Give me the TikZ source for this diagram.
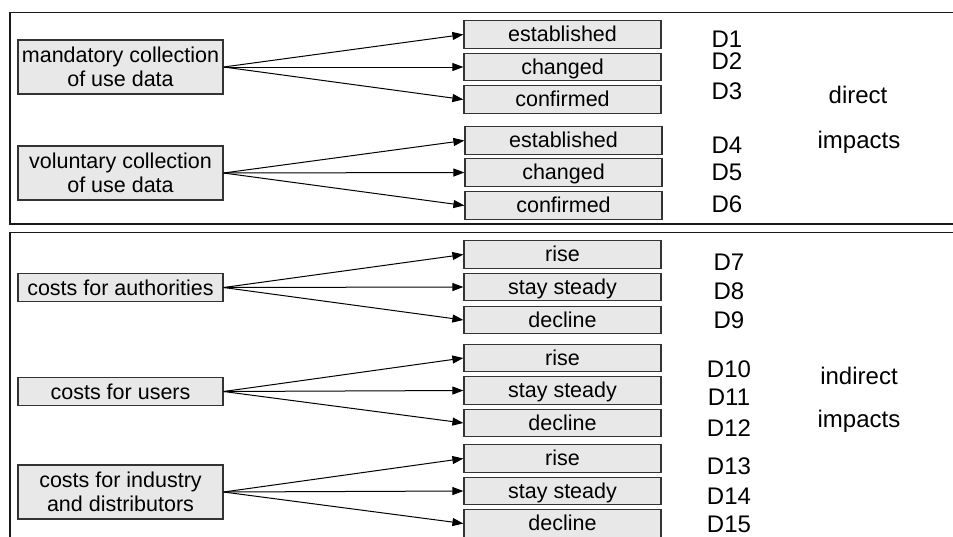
\documentclass[tikz,border=0pt]{standalone}
\usepackage{fontspec}
\setmainfont{Liberation Sans}
\usetikzlibrary{arrows.meta}
\begin{document}
\begin{tikzpicture}[x=1pt,y=-1pt,
  src/.style={draw=black!80, fill=black!9, line width=1.2pt, minimum width=205pt, align=center, inner sep=0pt, font=\fontsize{21.5}{24.5}\selectfont},
  srcone/.style={src, minimum height=28.5pt, text height=16pt, text depth=0pt},
  opt/.style={draw=black!80, fill=black!9, line width=1.2pt, minimum width=197pt, minimum height=27.5pt, inner sep=0pt, text height=16pt, text depth=2pt, font=\fontsize{21.5}{24}\selectfont},
  lab/.style={anchor=base, inner sep=0pt, font=\fontsize{24}{28}\selectfont},
  frame/.style={draw=black!90, line width=1.8pt},
  arr/.style={-{Triangle[length=11pt,width=8pt]}, line width=1pt}
]
\clip (0,0) rectangle (953,536);
\fill[white] (0,0) rectangle (953,536);

% frames
\draw[frame] (960,12.5) -- (10,12.5) -- (10,224) -- (960,224);
\draw[frame] (960,232.5) -- (10,232.5) -- (10,560);

% source boxes
\node[src, minimum height=54pt] (m) at (120.5,67) {mandatory collection\\of use data};
\node[src, minimum height=54pt] (v) at (120.5,173) {voluntary collection\\of use data};
\node[srcone] (ca) at (120.5,287.5) {costs for authorities};
\node[srcone] (cu) at (120.5,391.5) {costs for users};
\node[src, minimum height=54pt] (ci) at (120.5,492) {costs for industry\\and distributors};

% option boxes
\node[opt] (m1) at (562.5,34.5) {established};
\node[opt] (m2) at (562.5,67) {changed};
\node[opt] (m3) at (562.5,99.5) {confirmed};
\node[opt] (v1) at (563.5,140.5) {established};
\node[opt] (v2) at (563.5,172.5) {changed};
\node[opt] (v3) at (563.5,205.5) {confirmed};
\node[opt] (a1) at (562.5,254.5) {rise};
\node[opt] (a2) at (562.5,287) {stay steady};
\node[opt] (a3) at (562.5,320) {decline};
\node[opt] (u1) at (562.5,358) {rise};
\node[opt] (u2) at (562.5,390.5) {stay steady};
\node[opt] (u3) at (562.5,423) {decline};
\node[opt] (i1) at (562.5,458.5) {rise};
\node[opt] (i2) at (562.5,491) {stay steady};
\node[opt] (i3) at (562.5,523.5) {decline};

% arrows
\foreach \s/\t in {m/m,v/v,ca/a,cu/u,ci/i}{
  \draw[arr] (\s.east) -- (\t1.west);
  \draw[arr] (\s.east) -- (\t2.west);
  \draw[arr] (\s.east) -- (\t3.west);
}

% D labels
\node[lab] (d1) at (727,47) {D1};
\node[lab] (d2) at (727,69) {D2};
\node[lab] (d3) at (727,99) {D3};
\node[lab] (d4) at (727,153) {D4};
\node[lab] (d5) at (727,180) {D5};
\node[lab] (d6) at (727,212) {D6};
\node[lab] (d7) at (729,270) {D7};
\node[lab] (d8) at (729,299) {D8};
\node[lab] (d9) at (729,328) {D9};
\node[lab] (d10) at (729,377) {D10};
\node[lab] (d11) at (729,405) {D11};
\node[lab] (d12) at (729,436) {D12};
\node[lab] (d13) at (729,474) {D13};
\node[lab] (d14) at (729,504) {D14};
\node[lab] (d15) at (729,532) {D15};

% group labels
\node[lab] (dir) at (858,103) {direct};
\node[lab] (imp1) at (859,148) {impacts};
\node[lab] (ind) at (859,384) {indirect};
\node[lab] (imp2) at (859,427) {impacts};
\end{tikzpicture}
\end{document}
